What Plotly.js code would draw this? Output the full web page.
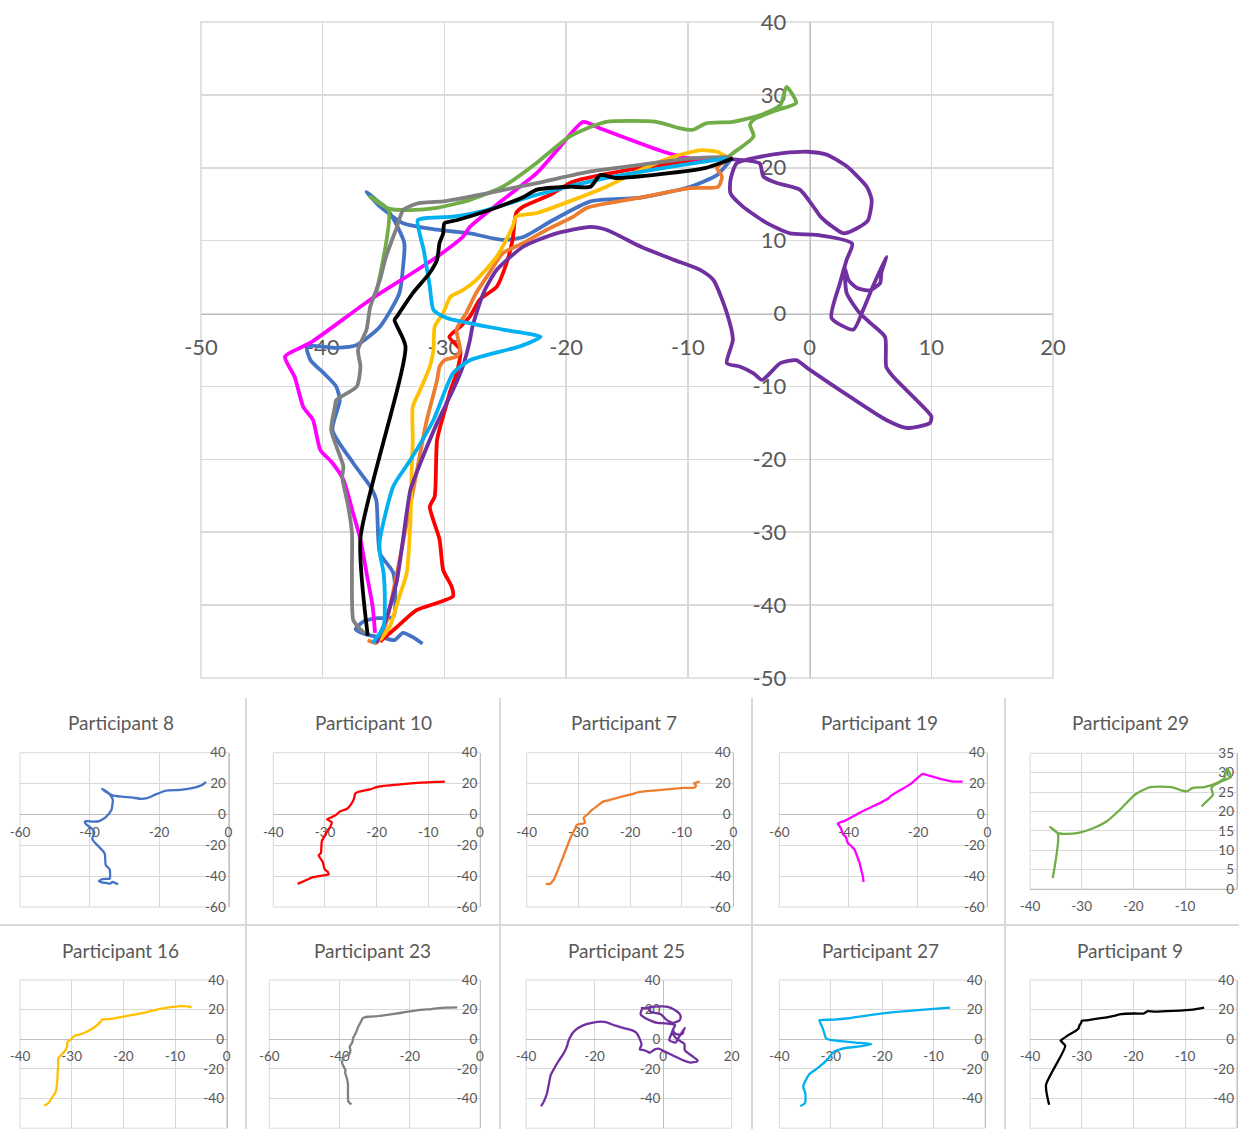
<!DOCTYPE html>
<html><head><meta charset="utf-8">
<script src="https://cdn.plot.ly/plotly-3.0.1.min.js"></script>
<style>html,body{margin:0;padding:0;background:#fff;}#chart{width:1239px;height:1129px;}</style>
</head><body><div id="chart"></div>
<script>
// ---------- DATA ----------
const participantNames = ['Participant 8','Participant 10','Participant 7','Participant 19','Participant 29',
                          'Participant 16','Participant 23','Participant 25','Participant 27','Participant 9'];

const p8x = [-31.8,-32.5,-33.4,-34.1,-35.0,-36.5,-37.3,-36.6,-35.5,-34.2,-34.2,-35.3,-35.6,-36.1,-37.5,-39.2,-38.6,-38.9,-39.9,-41.0,-41.3,-38.9,-37.2,-35.3,-33.7,-33.4,-33.3,-34.5,-36.4,-35.3,-33.4,-30.6,-27.9,-25.2,-23.5,-21.1,-18.0,-13.9,-9.8,-7.6,-6.5];
const p8y = [-45.3,-44.5,-43.8,-44.8,-44.5,-44.0,-43.3,-42.2,-41.8,-41.6,-35.6,-32.9,-25.6,-23.7,-20.5,-16.0,-11.9,-10.0,-8.2,-6.4,-4.5,-4.7,-4.3,-1.8,2.8,6.4,9.7,13.8,16.7,14.7,12.4,11.5,11.0,10.1,10.5,12.8,15.4,15.9,17.4,19.0,21.1];

const p10x = [-35.3,-33.9,-32.3,-30.6,-29.3,-29.4,-30.1,-30.4,-31.2,-30.8,-30.6,-29.8,-29.5,-29.0,-28.7,-29.6,-28.7,-27.9,-27.1,-25.7,-24.9,-24.4,-24.1,-23.5,-21.3,-19.4,-13.9,-8.5,-6.8];
const p10y = [-45.0,-43.0,-40.7,-39.7,-38.8,-37.5,-35.2,-31.0,-26.5,-25.1,-17.3,-12.3,-10.5,-8.2,-5.0,-3.2,-1.8,-0.4,1.9,3.7,6.9,10.1,13.8,14.7,16.3,18.1,20.0,21.1,21.3];

const p7x = [-36.3,-35.6,-34.8,-33.9,-33.1,-32.3,-31.5,-30.6,-30.4,-30.0,-29.0,-28.7,-29.0,-28.2,-27.4,-26.3,-25.2,-23.5,-21.6,-19.4,-18.3,-13.9,-9.8,-7.5,-7.2,-7.6,-6.8,-6.5];
const p7y = [-44.8,-45.2,-42.5,-35.6,-28.8,-21.9,-15.0,-9.1,-7.3,-6.4,-5.9,-5.0,-2.2,0.1,2.8,5.6,8.3,9.7,11.5,13.3,14.5,15.9,17.2,17.4,18.8,20.0,21.1,21.3];

const p19x = [-35.7,-35.9,-36.4,-36.9,-37.5,-38.3,-39.2,-40.2,-40.8,-41.6,-42.3,-43.1,-41.0,-36.1,-32.6,-30.6,-28.5,-27.9,-25.2,-22.4,-20.5,-18.6,-17.2,-12.0,-9.8,-7.1];
const p19y = [-43.8,-40.2,-35.6,-31.0,-27.4,-22.8,-20.5,-18.7,-14.6,-12.8,-8.7,-5.9,-4.0,1.9,5.6,7.8,10.5,11.9,15.6,19.3,22.9,26.3,25.4,22.2,21.3,21.3];

const p29x = [-35.6,-34.6,-36.1,-34.6,-32.8,-30.6,-27.9,-25.2,-22.4,-19.9,-18.6,-16.7,-12.6,-10.6,-9.6,-8.5,-6.3,-4.1,-2.4,-1.9,-1.1,-2.7,-4.6,-4.9,-4.6,-6.3,-6.8];
const p29y = [2.8,14.2,16.0,14.4,14.2,14.5,15.6,17.4,20.7,24.1,25.2,26.3,26.3,25.4,25.2,26.1,26.3,27.2,28.6,31.1,28.9,27.9,26.6,25.9,24.3,22.0,21.3];

const p16x = [-35.3,-34.5,-33.7,-33.1,-32.8,-32.7,-32.6,-32.6,-32.0,-31.2,-30.9,-30.8,-30.1,-29.5,-28.5,-27.4,-25.7,-24.4,-24.1,-22.4,-19.4,-16.7,-13.9,-11.2,-9.0,-7.6,-6.8];
const p16y = [-44.8,-43.0,-38.8,-35.6,-28.8,-21.9,-17.3,-12.8,-10.5,-7.3,-5.0,-1.8,0.1,2.3,3.2,4.6,7.8,11.9,13.3,13.8,15.6,17.4,19.7,21.5,22.4,22.2,21.5];

const p23x = [-36.6,-37.1,-37.5,-37.6,-37.6,-37.9,-38.4,-38.3,-39.3,-39.0,-38.9,-37.2,-36.9,-37.1,-36.4,-36.1,-35.3,-34.8,-33.9,-33.4,-32.6,-32.0,-30.1,-26.5,-22.4,-18.0,-13.9,-9.8,-6.5];
const p23y = [-43.8,-43.0,-42.0,-35.6,-30.1,-26.5,-22.4,-21.0,-16.0,-12.8,-11.9,-10.0,-7.3,-5.0,-2.2,0.9,4.6,7.8,11.9,14.2,14.9,15.2,15.4,16.5,17.9,19.5,20.4,21.3,21.5];

const p25x = [-35.6,-34.8,-33.9,-32.8,-32.3,-30.6,-29.3,-28.5,-27.9,-27.7,-26.8,-25.7,-23.5,-20.8,-18.0,-16.7,-13.9,-11.2,-9.0,-7.9,
              -6.8,-6.3,-6.8,-5.7,-4.6,-3.9,-2.4,-1.1,0.0,3.3,6.3,8.0,9.9,10.0,8.8,6.9,6.3,6.2,5.0,4.1,
              3.05,2.9,3.2,3.9,5.0,5.8,5.9,6.3,5.2,4.4,3.6,1.8,2.5,3.05,3.5,0.6,-1.6,-3.5,-5.5,-6.5,
              -6.5,-6.0,-4.1,-2.2,-0.2,1.4,3.05,4.7,5.1,4.8,3.9,2.8,1.9,0.9,0.3,-0.8,-2.7,-3.8,-4.1,-6.5];
const p25y = [-45.2,-42.0,-36.6,-24.2,-21.9,-15.0,-10.5,-7.3,-3.6,-1.8,2.8,6.0,9.2,11.0,11.9,11.5,9.2,7.4,6.0,4.6,
              0.1,-3.6,-6.8,-7.3,-8.2,-9.1,-6.8,-6.4,-7.7,-11.4,-14.6,-15.7,-15.0,-14.1,-11.9,-8.7,-7.3,-3.2,-1.3,0.1,
              2.8,6.2,4.6,3.5,3.2,4.2,5.6,7.8,3.7,0.5,-2.2,-0.6,4.2,7.4,9.6,10.8,11.0,12.4,14.7,16.5,
              18.3,20.6,21.5,22.0,22.2,21.8,20.2,17.4,15.6,12.8,11.7,11.0,11.9,13.3,14.7,17.0,17.9,18.8,20.6,21.2];

const p27x = [-35.9,-35.0,-34.9,-35.0,-35.3,-35.3,-34.2,-32.8,-30.9,-29.3,-27.9,-23.8,-22.1,-25.2,-29.8,-30.9,-31.2,-31.7,-32.2,-31.5,-29.3,-26.5,-22.4,-16.7,-11.2,-6.8];
const p27y = [-45.2,-43.0,-40.2,-35.6,-32.9,-31.0,-23.7,-20.1,-14.6,-8.2,-6.4,-4.5,-3.2,-2.2,-0.6,0.5,3.7,8.7,12.8,13.1,13.3,14.2,16.3,18.6,20.2,21.3];

const p9x = [-36.3,-36.9,-33.2,-34.1,-33.9,-32.6,-31.2,-30.6,-30.4,-30.1,-30.0,-29.0,-26.3,-23.5,-22.4,-19.7,-18.0,-17.2,-15.9,-8.5,-6.3];
const p9y = [-44.2,-30.8,-4.5,-0.9,-0.4,2.8,5.6,7.4,9.7,11.0,12.4,12.8,14.2,16.0,17.0,17.4,17.4,19.0,18.6,20.0,21.3];

const mainXTicks = [-50,-40,-30,-20,-10,0,10,20];
const mainYTicks = [-50,-40,-30,-20,-10,0,10,20,30,40];

// ---------- STYLE / LAYOUT ----------
const W = 1239, H = 1129;
const FONT = 'Lato, "Open Sans", sans-serif';
const TXT = '#595959', GRID = '#D9D9D9', AXL = '#BFBFBF';
const colors = {p8:'#4472C4', p10:'#FF0000', p7:'#ED7D31', p19:'#FF00FF', p29:'#70AD47',
                p16:'#FFC000', p23:'#808080', p25:'#7030A0', p27:'#00B0F0', p9:'#000000'};
const dataOf = {p8:[p8x,p8y], p10:[p10x,p10y], p7:[p7x,p7y], p19:[p19x,p19y], p29:[p29x,p29y],
                p16:[p16x,p16y], p23:[p23x,p23y], p25:[p25x,p25y], p27:[p27x,p27y], p9:[p9x,p9y]};
const mainOrder = ['p8','p10','p7','p19','p29','p16','p23','p25','p27','p9'];

const px = v => v / W;
const py = v => 1 - v / H;
const ticksFor = (r, d) => { const a = []; for (let v = r[0]; v <= r[1] + 1e-9; v += d) a.push(v); return a; };
const labelsFor = a => a.map(v => String(v));   // plain hyphen minus like the reference

const traces = [];
const layout = {
  width: W, height: H, margin: {l:0, r:0, t:0, b:0},
  paper_bgcolor: '#fff', plot_bgcolor: 'rgba(0,0,0,0)', showlegend: false,
  font: {family: FONT, color: TXT},
  annotations: [], shapes: []
};

// main chart
const mainBox = [201, 1053, 22, 678];
const mxr = [-50, 20], myr = [-50, 40];
const mxd = [px(mainBox[0]), px(mainBox[1])], myd = [py(mainBox[3]), py(mainBox[2])];
layout.xaxis = {
  domain: mxd, range: mxr, tickmode: 'array', tickvals: mainXTicks, ticktext: labelsFor(mainXTicks), anchor: 'free',
  position: myd[0] + (0 - myr[0]) / (myr[1] - myr[0]) * (myd[1] - myd[0]),
  showgrid: true, gridcolor: GRID, gridwidth: 1.5, zeroline: false,
  showline: true, linecolor: AXL, linewidth: 1.5,
  ticks: 'outside', ticklen: 14, tickcolor: 'rgba(0,0,0,0)',
  tickfont: {family: FONT, size: 22, color: TXT}, layer: 'below traces', fixedrange: true
};
layout.yaxis = {
  domain: myd, range: myr, tickmode: 'array', tickvals: mainYTicks, ticktext: labelsFor(mainYTicks), anchor: 'free',
  position: mxd[0] + (0 - mxr[0]) / (mxr[1] - mxr[0]) * (mxd[1] - mxd[0]),
  showgrid: true, gridcolor: GRID, gridwidth: 1.5, zeroline: false,
  showline: true, linecolor: AXL, linewidth: 1.5,
  ticks: 'outside', ticklen: 19, tickcolor: 'rgba(0,0,0,0)',
  tickfont: {family: FONT, size: 22, color: TXT}, layer: 'below traces', fixedrange: true
};
layout.shapes.push({type:'rect', xref:'x domain', yref:'y domain', x0:0, x1:1, y0:0, y1:1,
  line:{color: GRID, width: 1.5}, layer:'below'});
mainOrder.forEach(k => {
  traces.push({x: dataOf[k][0], y: dataOf[k][1], mode: 'lines', xaxis: 'x', yaxis: 'y',
    line: {color: colors[k], width: 3.8, shape: 'spline', smoothing: 0.6}, hoverinfo: 'skip'});
});

// small multiples
const panels = [
  {key:'p8',  box:[20,228.5,752.7,907],    xr:[-60,0],  xd:20, yr:[-60,40], yd:20, tx:121,  ty:723},
  {key:'p10', box:[273.3,480,752.7,907],   xr:[-40,0],  xd:10, yr:[-60,40], yd:20, tx:373,  ty:723},
  {key:'p7',  box:[526.7,733.3,752.7,907], xr:[-40,0],  xd:10, yr:[-60,40], yd:20, tx:624,  ty:723},
  {key:'p19', box:[779.3,987.3,752.7,907], xr:[-60,0],  xd:20, yr:[-60,40], yd:20, tx:879,  ty:723},
  {key:'p29', box:[1030,1236.7,753.3,889], xr:[-40,0],  xd:10, yr:[0,35],   yd:5,  tx:1130, ty:723},
  {key:'p16', box:[20,226.7,980,1128.2],   xr:[-40,0],  xd:10, yr:[-60,40], yd:20, tx:120,  ty:950},
  {key:'p23', box:[269.3,480,980,1128.2],  xr:[-60,0],  xd:20, yr:[-60,40], yd:20, tx:372,  ty:950},
  {key:'p25', box:[526,731.7,980,1128.2],  xr:[-40,20], xd:20, yr:[-60,40], yd:20, tx:627,  ty:950},
  {key:'p27', box:[779.3,985,980,1128.2],  xr:[-40,0],  xd:10, yr:[-60,40], yd:20, tx:880,  ty:950},
  {key:'p9',  box:[1030,1236.7,980,1128.2],xr:[-40,0],  xd:10, yr:[-60,40], yd:20, tx:1130, ty:950}
];
panels.forEach((p, i) => {
  const n = i + 2;
  const xd = [px(p.box[0]), px(p.box[1])], yd = [py(p.box[3]), py(p.box[2])];
  const xt = ticksFor(p.xr, p.xd), yt = ticksFor(p.yr, p.yd);
  layout['xaxis' + n] = {
    domain: xd, range: p.xr, tickmode: 'array', tickvals: xt, ticktext: labelsFor(xt), anchor: 'free',
    position: yd[0] + (0 - p.yr[0]) / (p.yr[1] - p.yr[0]) * (yd[1] - yd[0]),
    showgrid: true, gridcolor: GRID, gridwidth: 1, zeroline: false,
    showline: true, linecolor: AXL, linewidth: 1,
    ticks: 'outside', ticklen: 5, tickcolor: 'rgba(0,0,0,0)',
    tickfont: {family: FONT, size: 13.5, color: TXT}, layer: 'below traces', fixedrange: true
  };
  layout['yaxis' + n] = {
    domain: yd, range: p.yr, tickmode: 'array', tickvals: yt, ticktext: labelsFor(yt), anchor: 'free',
    position: xd[0] + (0 - p.xr[0]) / (p.xr[1] - p.xr[0]) * (xd[1] - xd[0]),
    showgrid: true, gridcolor: GRID, gridwidth: 1, zeroline: false,
    showline: true, linecolor: AXL, linewidth: 1,
    ticks: '', tickfont: {family: FONT, size: 13.5, color: TXT}, layer: 'below traces', fixedrange: true
  };
  layout.shapes.push({type:'rect', xref:'x' + n + ' domain', yref:'y' + n + ' domain', x0:0, x1:1, y0:0, y1:1,
    line:{color: GRID, width: 1}, layer:'below'});
  traces.push({x: dataOf[p.key][0], y: dataOf[p.key][1], mode: 'lines', xaxis: 'x' + n, yaxis: 'y' + n,
    line: {color: colors[p.key], width: 2.3, shape: 'spline', smoothing: 0.6}, hoverinfo: 'skip'});
  layout.annotations.push({text: participantNames[i], xref: 'paper', yref: 'paper',
    x: px(p.tx), y: py(p.ty), xanchor: 'center', yanchor: 'middle', showarrow: false,
    font: {family: FONT, size: 19, color: TXT}});
});

// panel dividers
const lineStyle = {color: '#D9D9D9', width: 2};
layout.shapes.push({type:'line', xref:'paper', yref:'paper', x0:0, x1:1, y0:py(925), y1:py(925), line: lineStyle});
[246, 500, 752, 1005].forEach(v => {
  layout.shapes.push({type:'line', xref:'paper', yref:'paper', x0:px(v), x1:px(v), y0:py(698), y1:py(1129), line: lineStyle});
});

Plotly.newPlot('chart', traces, layout, {staticPlot: true, displayModeBar: false});
</script>
</body></html>
